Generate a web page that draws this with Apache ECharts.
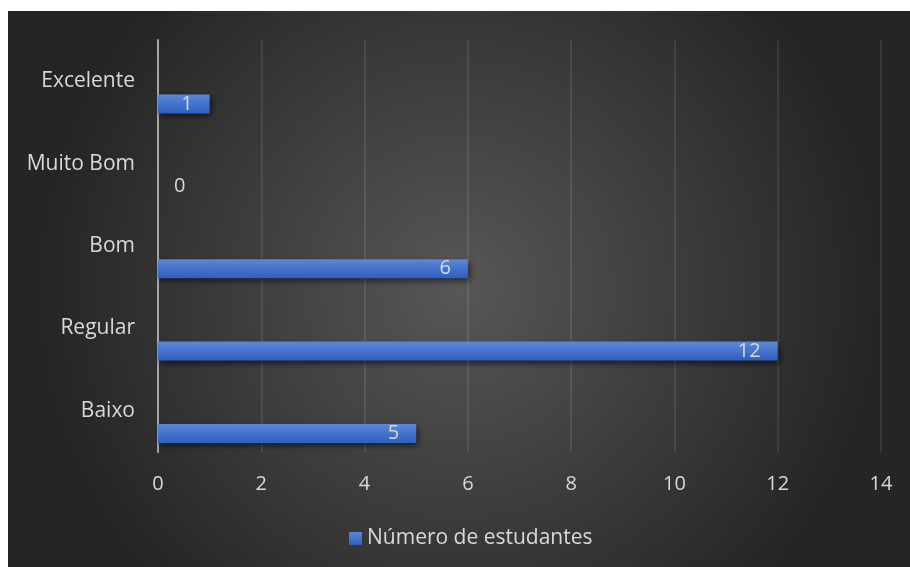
<!DOCTYPE html>
<html>
<head>
<meta charset="utf-8">
<script src="https://cdn.jsdelivr.net/npm/echarts@6/dist/echarts.min.js"></script>
<style>
  html, body { margin: 0; padding: 0; background: #ffffff; }
  #chart { position: absolute; left: 8px; top: 11px; width: 902px; height: 556px; }
</style>
</head>
<body>
<div id="chart"></div>
<script>
// categorias (de baixo para cima, como no eixo)
const categorias = ['Baixo', 'Regular', 'Bom', 'Muito Bom', 'Excelente'];
const estudantes = [5, 12, 6, 0, 1];
const nomeSerie = 'Número de estudantes';

const chart = echarts.init(document.getElementById('chart'));

const corTexto = '#d9d9d9';
const fonte = 'Open Sans';

const option = {
    backgroundColor: new echarts.graphic.RadialGradient(0.5, 0.5, 0.75, [
        { offset: 0, color: '#575757' },
        { offset: 1, color: '#252525' }
    ]),
    grid: { left: 150, right: 29, top: 29, bottom: 115, containLabel: false },
    legend: {
        data: [nomeSerie],
        bottom: 13,
        left: 336,
        icon: 'rect',
        itemWidth: 13,
        itemHeight: 13,
        itemGap: 6,
        textStyle: { color: corTexto, fontSize: 21, fontFamily: fonte }
    },
    xAxis: {
        type: 'value',
        min: 0,
        max: 14,
        interval: 2,
        axisLine: { show: false },
        axisTick: { show: false },
        axisLabel: { color: corTexto, fontSize: 20, fontFamily: fonte, margin: 22 },
        splitLine: { lineStyle: { color: 'rgba(255,255,255,0.13)', width: 1.5 } }
    },
    yAxis: {
        type: 'category',
        data: categorias,
        axisLine: { show: true, lineStyle: { color: '#a6a6a6', width: 2 } },
        axisTick: { show: false },
        axisLabel: { color: corTexto, fontSize: 21, fontFamily: fonte, margin: 23 }
    },
    series: [
        {
            // série vazia só para deslocar as barras como no original
            name: 'vazio',
            type: 'bar',
            data: categorias.map(() => '-'),
            barWidth: 19,
            barGap: '139%',
            silent: true
        },
        {
            name: nomeSerie,
            type: 'bar',
            barWidth: 19,
            barGap: '139%',
            data: estudantes.map(v => v === 0
                ? { value: v, label: { position: 'right', distance: 16 } }
                : v),
            itemStyle: {
                color: new echarts.graphic.LinearGradient(0, 0, 0, 1, [
                    { offset: 0, color: '#5b88dc' },
                    { offset: 1, color: '#2f5fbf' }
                ]),
                shadowColor: 'rgba(0,0,0,0.55)',
                shadowBlur: 6,
                shadowOffsetX: 2,
                shadowOffsetY: 3
            },
            label: {
                show: true,
                position: 'insideRight',
                distance: 17,
                color: corTexto,
                fontSize: 20,
                fontFamily: fonte
            }
        }
    ]
};

chart.setOption(option);
</script>
</body>
</html>
